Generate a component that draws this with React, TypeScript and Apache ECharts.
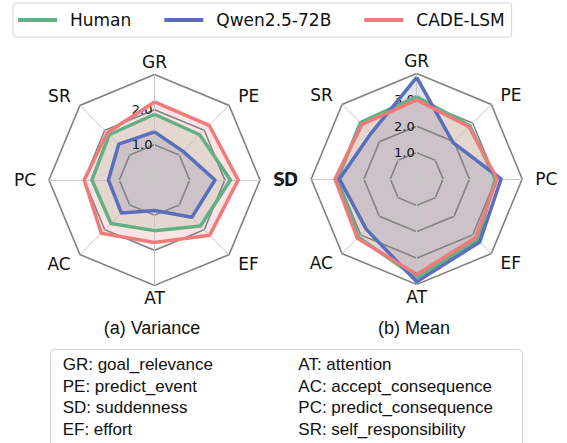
import React, { useEffect, useRef } from 'react';
import * as echarts from 'echarts';

// Axis orders (clockwise from top, as in the reference)
const VAR_AXES = ['GR', 'PE', 'SD', 'EF', 'AT', 'AC', 'PC', 'SR'];
const MEAN_AXES = ['GR', 'PE', 'PC', 'EF', 'AT', 'AC', 'SD', 'SR'];

const SERIES_NAMES = ['Human', 'Qwen2.5-72B', 'CADE-LSM'];
const SERIES_COLORS = ['#62b084', '#5a6ebb', '#f07a7a'];

// (a) Variance
const varHuman = [1.87, 1.82, 2.16, 1.85, 1.44, 1.75, 1.78, 1.82];
const varQwen = [1.37, 1.15, 1.72, 1.5, 0.87, 1.33, 1.31, 1.44];
const varCade = [2.22, 2.2, 2.38, 2.22, 1.78, 2.14, 2.0, 1.9];

// (b) Mean
const meanHuman = [3.12, 2.85, 2.98, 3.27, 3.75, 3.12, 3.0, 3.02];
const meanQwen = [3.85, 1.95, 3.2, 3.38, 3.9, 2.7, 2.93, 2.45];
const meanCade = [3.0, 2.8, 3.05, 3.15, 3.62, 3.18, 3.1, 2.93];

const VAR_MAX = 3;
const MEAN_MAX = 4;

const CAPTIONS = ['(a) Variance', '(b) Mean'];

const ABBR_LEFT = ['GR: goal_relevance', 'PE: predict_event', 'SD: suddenness', 'EF: effort'];
const ABBR_RIGHT = ['AT: attention', 'AC: accept_consequence', 'PC: predict_consequence', 'SR: self_responsibility'];

// ECharts lays indicators out counter-clockwise; reorder to clockwise.
const ccw = <T,>(arr: T[]): T[] => [arr[0], ...arr.slice(1).reverse()];

const SANS = 'DejaVu Sans';
const HELV = 'Liberation Sans';

function makeRadar(axes: string[], max: number, center: [number, number]) {
  return {
    z: 2,
    center,
    radius: 105.5,
    startAngle: 90,
    shape: 'polygon',
    splitNumber: max,
    indicator: ccw(axes).map((name, i) =>
      i === 0
        ? { name, min: 0, max, axisLabel: { show: true } }
        : { name, min: 0, max }
    ),
    nameGap: 13,
    axisName: {
      color: '#111',
      fontSize: 17,
      fontFamily: SANS,
      padding: [-9, 0, -9, 0],
    },
    axisLine: { lineStyle: { color: '#c6c6c6', width: 1 } },
    splitLine: { lineStyle: { color: '#828282', width: 1.6 } },
    splitArea: { show: false },
    axisTick: { show: false },
    axisLabel: {
      show: false,
      color: '#111',
      fontSize: 13,
      fontFamily: SANS,
      margin: 2,
      padding: [0, 0, 7, 0],
      showMinLabel: false,
      showMaxLabel: false,
      formatter: (v: number) => (v <= 0 || v >= max ? '' : Number(v).toFixed(1)),
    },
  };
}

// Filled areas go beneath the grid, outlines above it (as in the reference).
function makeFillSeries(radarIndex: number, values: number[][]) {
  return {
    type: 'radar',
    radarIndex,
    z: 1,
    symbol: 'none',
    silent: true,
    data: values.map((v, i) => ({
      name: SERIES_NAMES[i],
      value: ccw(v),
      itemStyle: { color: SERIES_COLORS[i] },
      lineStyle: { color: SERIES_COLORS[i], width: 0, opacity: 0 },
      areaStyle: { color: SERIES_COLORS[i], opacity: 0.2 },
    })),
  };
}

function makeLineSeries(radarIndex: number, values: number[][]) {
  return {
    type: 'radar',
    radarIndex,
    z: 3,
    symbol: 'none',
    data: values.map((v, i) => ({
      name: SERIES_NAMES[i],
      value: ccw(v),
      itemStyle: { color: SERIES_COLORS[i] },
      lineStyle: { color: SERIES_COLORS[i], width: 3.5 },
    })),
  };
}

export default function App() {
  const ref = useRef<HTMLDivElement>(null);
  useEffect(() => {
    const chart = echarts.init(ref.current!, null, { renderer: 'svg' });
    const rowY = (i: number) => 364.5 + i * 21.6;
    const txt = (text: string, x: number, y: number, size: number, align: string) => ({
      type: 'text',
      x,
      y,
      style: {
        text,
        fontSize: size,
        fontFamily: HELV,
        fill: '#111',
        align,
        verticalAlign: 'middle',
      },
    });
    const option: any = {
      animation: false,
      backgroundColor: '#ffffff',
      legend: {
        data: SERIES_NAMES,
        left: 13,
        top: 3,
        icon: 'rect',
        itemWidth: 39,
        itemHeight: 4,
        itemGap: 33,
        padding: [7, 7, 7, 5],
        borderColor: '#d2d2d2',
        borderWidth: 1,
        borderRadius: 3,
        textStyle: {
          fontSize: 17,
          fontFamily: SANS,
          color: '#111',
          lineHeight: 20,
          padding: [0, 0, 0, 8],
        },
      },
      radar: [
        makeRadar(VAR_AXES, VAR_MAX, [154.5, 180]),
        makeRadar(MEAN_AXES, MEAN_MAX, [416.7, 179]),
      ],
      series: [
        makeFillSeries(0, [varHuman, varQwen, varCade]),
        makeFillSeries(1, [meanHuman, meanQwen, meanCade]),
        makeLineSeries(0, [varHuman, varQwen, varCade]),
        makeLineSeries(1, [meanHuman, meanQwen, meanCade]),
      ],
      graphic: [
        txt(CAPTIONS[0], 152, 328, 18, 'center'),
        txt(CAPTIONS[1], 414, 328, 18, 'center'),
        {
          type: 'rect',
          shape: { x: 50.5, y: 349.5, width: 472, height: 120, r: 4 },
          style: { fill: '#ffffff', stroke: '#d2d2d2', lineWidth: 1 },
        },
        ...ABBR_LEFT.map((t, i) => txt(t, 62.7, rowY(i), 17, 'left')),
        ...ABBR_RIGHT.map((t, i) => txt(t, 298.3, rowY(i), 17, 'left')),
      ],
    };
    chart.setOption(option);
    return () => chart.dispose();
  }, []);
  return (
    <div
      ref={ref}
      style={{ position: 'fixed', left: 0, top: 0, width: 567, height: 443, background: '#fff' }}
    />
  );
}
